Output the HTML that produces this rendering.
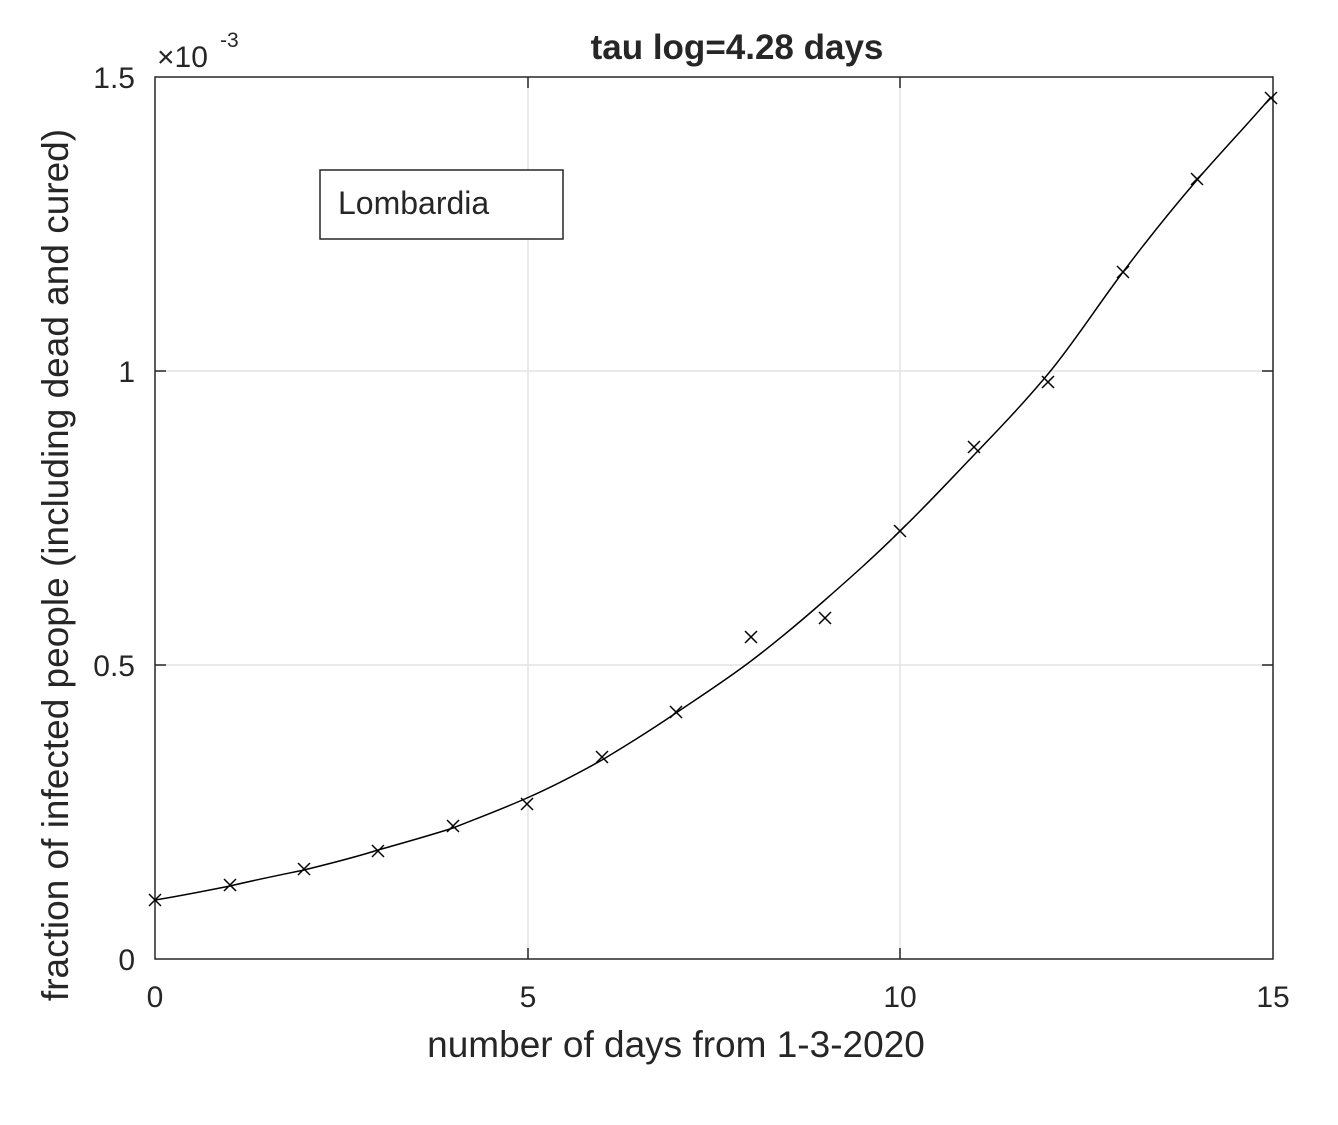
<!DOCTYPE html>
<html><head><meta charset="utf-8"><style>
html,body{margin:0;padding:0;background:#fff}
svg text{font-family:"Liberation Sans",Arial,sans-serif;fill:#262626}
</style></head><body>
<svg width="1338" height="1120" xmlns="http://www.w3.org/2000/svg">
<rect width="1338" height="1120" fill="#fff"/>
<g stroke="#e3e3e3" stroke-width="1.5">
<line x1="528" y1="77" x2="528" y2="959"/>
<line x1="900" y1="77" x2="900" y2="959"/>
<line x1="155" y1="371" x2="1273" y2="371"/>
<line x1="155" y1="665" x2="1273" y2="665"/>
</g>
<rect x="155" y="77" width="1118" height="882" fill="none" stroke="#262626" stroke-width="1.5"/>
<g stroke="#262626" stroke-width="1.5">
<line x1="528" y1="959" x2="528" y2="948"/><line x1="900" y1="959" x2="900" y2="948"/>
<line x1="528" y1="77" x2="528" y2="88"/><line x1="900" y1="77" x2="900" y2="88"/>
<line x1="155" y1="371" x2="166" y2="371"/><line x1="155" y1="665" x2="166" y2="665"/>
<line x1="1273" y1="371" x2="1262" y2="371"/><line x1="1273" y1="665" x2="1262" y2="665"/>
</g>
<g font-size="30" text-anchor="middle">
<text x="155" y="1007">0</text><text x="528" y="1007">5</text><text x="900" y="1007">10</text><text x="1273" y="1007">15</text>
</g>
<g font-size="30" text-anchor="end">
<text x="135" y="970">0</text><text x="135" y="676">0.5</text><text x="135" y="382">1</text><text x="135" y="88">1.5</text>
</g>
<text x="157" y="67" font-size="30">×10</text><text x="220" y="47" font-size="21">-3</text>
<text x="737" y="59" font-size="35" font-weight="bold" text-anchor="middle" fill="#000">tau log=4.28 days</text>
<text x="676" y="1057" font-size="37" text-anchor="middle">number of days from 1-3-2020</text>
<text transform="translate(68,565) rotate(-90)" font-size="37" text-anchor="middle">fraction of infected people (including dead and cured)</text>
<rect x="320" y="170" width="243" height="69" fill="#fff" stroke="#262626" stroke-width="1.5"/>
<text x="338" y="214" font-size="32" fill="#000">Lombardia</text>
<path d="M155,900 C180,896 205,891 230,886 C255,880 280,875 304,870 C328,864 353,858 378,850 C403,843 428,836 453,828 C478,818 502,809 527,798 C552,787 577,774 602,760 C627,745 651,730 676,713 C701,696 726,680 751,661 C776,642 800,622 825,600 C850,578 875,556 900,531 C925,507 949,481 974,455 C999,429 1023,404 1048,374 C1073,344 1098,305 1123,272 C1148,239 1172,209 1197,180 C1222,151 1247,125 1271,97" fill="none" stroke="#000" stroke-width="1.5"/>
<g stroke="#000" stroke-width="1.5">
<path d="M149,894l12,12M161,894l-12,12"/>
<path d="M224,879l12,12M236,879l-12,12"/>
<path d="M298,863l12,12M310,863l-12,12"/>
<path d="M372,845l12,12M384,845l-12,12"/>
<path d="M447,820l12,12M459,820l-12,12"/>
<path d="M521,798l12,12M533,798l-12,12"/>
<path d="M596,751l12,12M608,751l-12,12"/>
<path d="M670,706l12,12M682,706l-12,12"/>
<path d="M745,631l12,12M757,631l-12,12"/>
<path d="M819,612l12,12M831,612l-12,12"/>
<path d="M894,525l12,12M906,525l-12,12"/>
<path d="M968,441l12,12M980,441l-12,12"/>
<path d="M1042,376l12,12M1054,376l-12,12"/>
<path d="M1117,266l12,12M1129,266l-12,12"/>
<path d="M1191,173l12,12M1203,173l-12,12"/>
<path d="M1265,92l12,12M1277,92l-12,12"/>
</g>
</svg>
</body></html>
